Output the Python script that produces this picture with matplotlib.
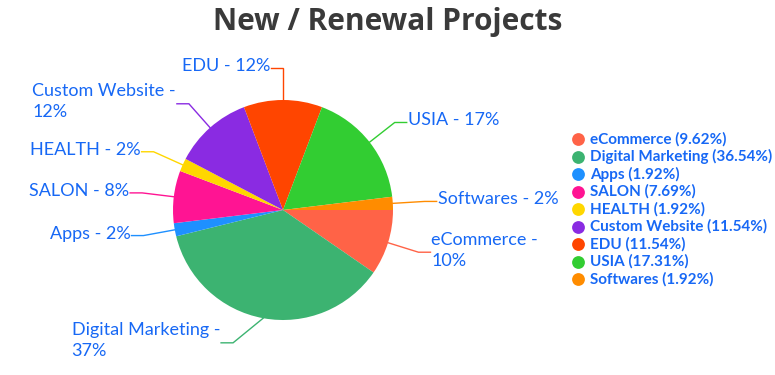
import numpy as np
import matplotlib
matplotlib.use('Agg')
import matplotlib.pyplot as plt

names = ['eCommerce', 'Digital Marketing', 'Apps', 'SALON', 'HEALTH',
         'Custom Website', 'EDU', 'USIA', 'Softwares']
projects = [5, 19, 1, 4, 1, 6, 6, 9, 1]
colors = ['#FF6347', '#3CB371', '#1E90FF', '#FF1493', '#FFD700',
          '#8A2BE2', '#FF4500', '#32CD32', '#FF8C00']
wrapped = ['eCommerce', 'Custom Website', 'Digital Marketing']

title = 'New / Renewal Projects'
label_color = '#1768f5'
font = 'Lato'

# layout in pixels, y pointing down
cx, cy, r = 283, 210, 110
elbow_r = 1.29 * r
elbow_angle = {'Digital Marketing': 110.6}

fig = plt.figure(figsize=(7.75, 3.75), dpi=100)
ax = fig.add_axes([0, 0, 1, 1])
wedges, _ = ax.pie(projects, colors=colors, startangle=0, counterclock=True,
                   center=(cx, cy), radius=r, wedgeprops=dict(linewidth=0))
ax.set_xlim(0, 775)
ax.set_ylim(375, 0)
ax.axis('off')

total = sum(projects)
for w, name, val, col in zip(wedges, names, projects, colors):
    mid = np.deg2rad((w.theta1 + w.theta2) / 2)
    ex, ey = cx + r * np.cos(mid), cy + r * np.sin(mid)
    ea = np.deg2rad(elbow_angle.get(name, np.rad2deg(mid)))
    kx, ky = cx + elbow_r * np.cos(ea), cy + elbow_r * np.sin(ea)
    side = 1 if np.cos(ea) > 0.01 else -1
    tx = kx + 12 * side
    ax.plot([ex, kx, tx], [ey, ky, ky], color=col, lw=1, solid_joinstyle='miter')
    pct = round(100 * val / total)
    txt = f'{name} -\n{pct}%' if name in wrapped else f'{name} - {pct}%'
    ax.text(tx + side, ky - 2, txt, ha='left' if side > 0 else 'right', va='center',
            multialignment='left', fontsize=13, color=label_color, family=font,
            linespacing=1.4)

# legend
for i, (name, val, col) in enumerate(zip(names, projects, colors)):
    y = 139 + i * 17.5
    ax.scatter([578], [y], s=85, color=col, linewidths=0)
    ax.text(590, y, f'{name} ({100 * val / total:.2f}%)', ha='left', va='center',
            fontsize=11, fontweight='bold', color=label_color, family=font)

ax.text(387.5, 22, title, ha='center', va='center', fontsize=21.5, fontweight='bold',
        color='#3a3a3a', family='Open Sans')

fig.savefig('out.png', dpi=100)
